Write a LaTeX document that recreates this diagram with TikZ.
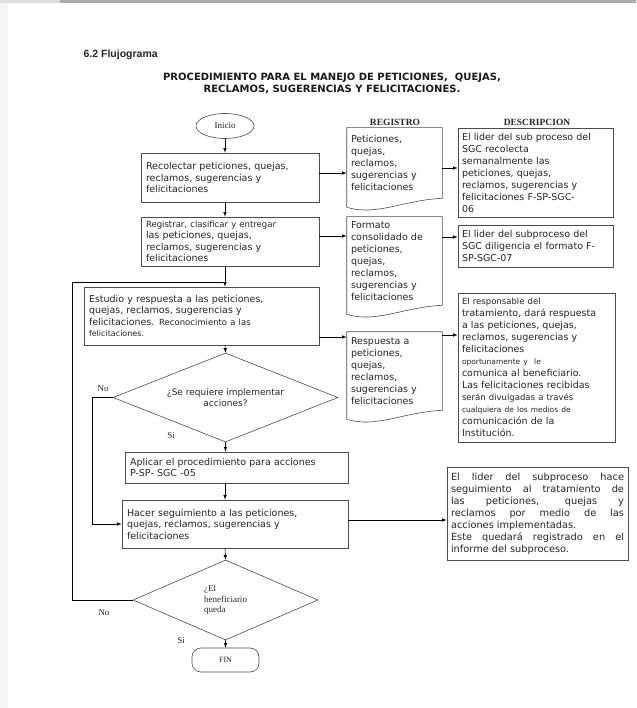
\documentclass[tikz,border=0pt]{standalone}
\usepackage{fontspec}
\setmainfont{Liberation Serif}
\setsansfont{DejaVu Sans}
\newfontfamily\arial{Liberation Sans}
\usetikzlibrary{shapes.geometric}

\newcommand{\chica}{\fontsize{7.5}{12}\selectfont}

\tikzset{
  borde/.style={draw=black!70, line width=0.6pt},
  caja/.style={borde, rectangle, align=left, inner sep=4pt, text=black!85,
    font=\sffamily\fontsize{9.5}{11.5}\selectfont},
  desc/.style={caja, font=\sffamily\fontsize{9.5}{12}\selectfont},
  docu/.style={rectangle, align=left, inner sep=4pt, text=black!85,
    font=\sffamily\fontsize{9.5}{12}\selectfont},
  etiq/.style={text=black!85, font=\rmfamily\fontsize{9}{10.5}\selectfont},
  col/.style={text=black!85, font=\rmfamily\bfseries\fontsize{9.5}{11}\selectfont}
}

\begin{document}
\begin{tikzpicture}[x=1pt, y=-1pt, >=latex, line width=0.6pt]
  \useasboundingbox (0,0) rectangle (636,708);
  % Fondo
  \fill[white] (0,0) rectangle (636,708);
  \fill[gray!7] (0,3) rectangle (8,708);
  \fill[gray!25] (0,0) rectangle (60,3);
  \fill[gray!65] (60,0) rectangle (636,3);

  % Encabezado
  \node[anchor=west, text=black!85, font=\arial\bfseries\fontsize{10.5}{12}\selectfont] (sec) at (80,55) {6.2 Flujograma};
  \node[align=center, text=black!90, font=\sffamily\bfseries\fontsize{10}{12}\selectfont] (tit) at (332,84)
    {PROCEDIMIENTO PARA EL MANEJO DE PETICIONES,\ \ QUEJAS,\\RECLAMOS, SUGERENCIAS Y FELICITACIONES.};
  \node[col] (creg) at (395,122) {REGISTRO};
  \node[col] (cdes) at (537,122) {DESCRIPCION};

  % Columna principal
  \node[ellipse, borde, etiq, minimum width=58pt, minimum height=25pt] (ini) at (225,126) {Inicio};
  \node[caja, minimum width=178pt, minimum height=49pt, text width=168pt] (rec) at (230,177.5)
    {Recolectar peticiones, quejas,\\reclamos, sugerencias y\\felicitaciones};
  \node[caja, minimum width=178pt, minimum height=49pt, text width=168pt] (reg) at (230,241.5)
    {{\fontsize{8.5}{11.5}\selectfont Registrar, clasificar y entregar}\\las peticiones, quejas,\\reclamos, sugerencias y\\felicitaciones};
  \node[caja, minimum width=235pt, minimum height=58pt, text width=225pt] (est) at (201.5,316)
    {Estudio y respuesta a las peticiones,\\quejas, reclamos, sugerencias y\\felicitaciones. {\fontsize{8.5}{11.5}\selectfont Reconocimiento a las}\\{\fontsize{8}{11.5}\selectfont felicitaciones.}};
  \node[diamond, borde, aspect=2.53, minimum width=225pt, minimum height=89pt, inner sep=0pt, align=center,
    text=black!85, font=\sffamily\fontsize{9}{11}\selectfont] (dec1) at (225.5,397.5)
    {¿Se requiere implementar\\acciones?};
  \node[caja, minimum width=223pt, minimum height=31pt, text width=213pt] (apl) at (236.5,467.5)
    {Aplicar el procedimiento para acciones\\P-SP- SGC -05};
  \node[caja, minimum width=226pt, minimum height=48pt, text width=216pt] (seg) at (235,524)
    {Hacer seguimiento a las peticiones,\\quejas, reclamos, sugerencias y\\felicitaciones};
  \node[diamond, borde, aspect=2.31, minimum width=185pt, minimum height=80pt, inner sep=0pt, align=left, etiq] (dec2) at (225.5,600)
    {¿El\\beneficiario\\queda};
  \node[rectangle, rounded corners=9pt, borde, etiq, font=\rmfamily\fontsize{8}{10}\selectfont,
    minimum width=67pt, minimum height=24pt] (fin) at (225.5,660) {FIN};

  % Registros
  \node[docu, minimum width=95pt, minimum height=70pt, text width=87pt] (doc1) at (394.5,163)
    {Peticiones,\\quejas,\\reclamos,\\sugerencias y\\felicitaciones};
  \node[docu, minimum width=95pt, minimum height=88pt, text width=87pt] (doc2) at (394.5,261)
    {Formato\\consolidado de\\peticiones,\\quejas,\\reclamos,\\sugerencias y\\felicitaciones};
  \node[docu, minimum width=95pt, minimum height=78pt, text width=87pt] (doc3) at (394.5,371)
    {Respuesta a\\peticiones,\\quejas,\\reclamos,\\sugerencias y\\felicitaciones};
  \foreach \d in {doc1,doc2,doc3}
    \draw[borde] ([yshift=-9pt]\d.south west) -- (\d.north west) -- (\d.north east) -- (\d.south east)
      .. controls +(-40,2) and +(30,9) .. ([yshift=-9pt]\d.south west);

  % Descripciones
  \node[desc, minimum width=155pt, minimum height=89pt, text width=147pt] (des1) at (535.5,172.5)
    {El lider del sub proceso del\\SGC recolecta\\semanalmente las\\peticiones, quejas,\\reclamos, sugerencias y\\felicitaciones F-SP-SGC-\\06};
  \node[desc, minimum width=155pt, minimum height=42pt, text width=147pt] (des2) at (535.5,246)
    {El lider del subproceso del\\SGC diligencia el formato F-\\SP-SGC-07};
  \node[desc, minimum width=157pt, minimum height=149pt, text width=149pt] (des3) at (536.5,367.5)
    {{\fontsize{8.5}{12}\selectfont El responsable del}\\tratamiento, dará respuesta\\a las peticiones, quejas,\\reclamos, sugerencias y\\felicitaciones\\{\chica oportunamente y\ \ le}\\comunica al beneficiario.\\Las felicitaciones recibidas\\{\fontsize{8.5}{12}\selectfont serán divulgadas a través}\\{\chica cualquiera de los medios de}\\comunicación de la\\Institución.};
  \node[desc, align=justify, minimum width=181pt, minimum height=93pt, text width=173pt,
    font=\sffamily\fontsize{9.8}{12}\selectfont] (des4) at (537.5,513.5)
    {El lider del subproceso hace\linebreak seguimiento al tratamiento de\linebreak las peticiones, quejas y\linebreak reclamos por medio de las\linebreak acciones implementadas.\\Este quedará registrado en el\linebreak informe del subproceso.};

  % Puntos de paso a la izquierda
  \coordinate (izq1) at (92,0);
  \coordinate (izq2) at (72,0);
  \coordinate (union) at (225,282);

  % Flechas verticales
  \draw[->] (ini.south) -- (ini.south |- rec.north);
  \draw[->] (rec.south -| ini) -- (reg.north -| ini);
  \draw[->] (reg.south -| ini) -- (est.north -| ini);
  \draw[->] (est.south -| ini) -- (dec1.north);
  \draw[->] (dec1.south) -- (dec1.south |- apl.north);
  \draw[->] (apl.south -| ini) -- (seg.north -| ini);
  \draw[->] (seg.south -| ini) -- (dec2.north);
  \draw[->] (dec2.south) -- (fin.north);

  % Flechas horizontales
  \draw[->] ([yshift=4.5pt]rec.east) -- ([yshift=4.5pt]rec.east -| doc1.west);
  \draw[->] ([yshift=-5pt]doc1.east) -- ([yshift=-5pt]doc1.east -| des1.west);
  \draw[->] ([yshift=5.5pt]reg.east) -- ([yshift=5.5pt]reg.east -| doc2.west);
  \draw[->] ([yshift=24pt]doc2.east) -- ([yshift=24pt]doc2.east -| des2.west);
  \draw[->] ([yshift=-21pt]est.east) -- ([yshift=-21pt]est.east -| doc3.west);
  \draw[->] ([yshift=36pt]doc3.east) -- ([yshift=36pt]doc3.east -| des3.west);
  \draw[->] ([yshift=4pt]seg.east) -- ([yshift=4pt]seg.east -| des4.west);

  % Retornos
  \draw[->] (dec1.west) -- (dec1.west -| izq1) |- (seg.west);
  \draw (dec2.west) -- (dec2.west -| izq2) |- (union);

  % Etiquetas
  \node[etiq] (no1) at (103,389) {No};
  \node[etiq] (si1) at (171,436) {Si};
  \node[etiq] (no2) at (104,613) {No};
  \node[etiq] (si2) at (181,641) {Si};
\end{tikzpicture}
\end{document}
